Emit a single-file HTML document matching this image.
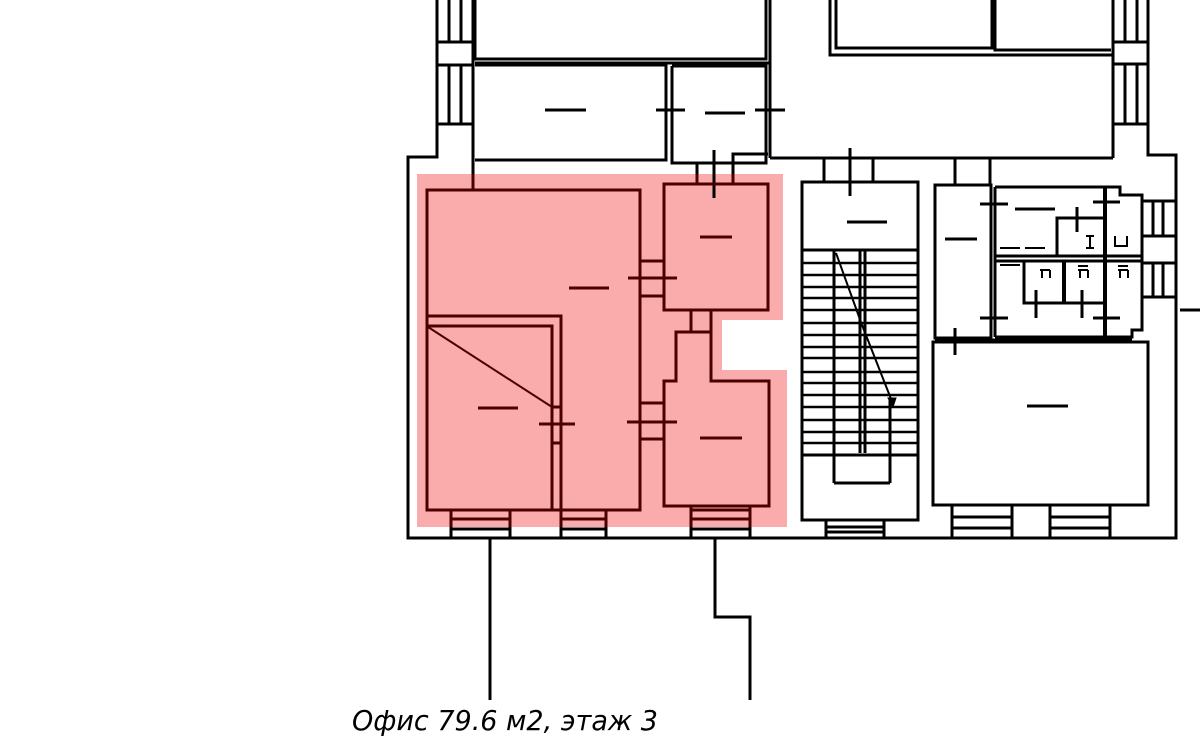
<!DOCTYPE html>
<html><head><meta charset="utf-8"><style>
html,body{margin:0;padding:0;background:#fff;width:1200px;height:745px;overflow:hidden}
svg{display:block}
</style></head><body>
<svg width="1200" height="745" viewBox="0 0 1200 745" xmlns="http://www.w3.org/2000/svg">
<!-- pink area -->
<polygon points="417,174 783,174 783,320 722,320 722,370 787,370 787,527 417,527" fill="#faabab"/>
<g fill="none" stroke="#000" stroke-width="3">
<!-- outer walls -->
<polyline points="437,0 437,157 408,157 408,538 1176,538 1176,155 1148,155 1148,0"/>
<line x1="473" y1="0" x2="473" y2="176"/>
<line x1="449" y1="0" x2="449" y2="42"/><line x1="461" y1="0" x2="461" y2="42"/>
<line x1="449" y1="66" x2="449" y2="124"/><line x1="461" y1="66" x2="461" y2="124"/>
<line x1="437" y1="42" x2="473" y2="42"/><line x1="437" y1="65" x2="473" y2="65"/><line x1="437" y1="124" x2="473" y2="124"/>
<!-- top rooms -->
<polyline points="475,0 475,59 766,59 766,0"/>
<line x1="475" y1="63" x2="770" y2="63"/>
<line x1="770" y1="0" x2="770" y2="158"/>
<polyline points="475,65 666,65 666,160 475,160"/>
<polyline points="672,66 766,66 766,163 672,163 672,66"/>
<line x1="656" y1="110" x2="685" y2="110"/>
<line x1="755" y1="110" x2="785" y2="110"/>
<line x1="545" y1="110" x2="586" y2="110"/>
<line x1="705" y1="113" x2="745" y2="113"/>
<polyline points="733,176 733,154 768,154"/>
<line x1="697" y1="163" x2="697" y2="176"/>
<!-- right top -->
<polyline points="830,0 830,55 1113,55"/>
<polyline points="836,0 836,48 992,48 992,0"/>
<polyline points="995,0 995,50 1111,50"/>
<line x1="1113" y1="0" x2="1113" y2="158"/>
<line x1="770" y1="158" x2="1113" y2="158"/>
<line x1="1125" y1="0" x2="1125" y2="42"/><line x1="1137" y1="0" x2="1137" y2="42"/>
<line x1="1125" y1="64" x2="1125" y2="124"/><line x1="1137" y1="64" x2="1137" y2="124"/>
<line x1="1113" y1="42" x2="1148" y2="42"/><line x1="1113" y1="64" x2="1148" y2="64"/><line x1="1113" y1="124" x2="1148" y2="124"/>
<!-- stair -->
<line x1="824" y1="158" x2="824" y2="182"/><line x1="873" y1="158" x2="873" y2="182"/>
<line x1="850" y1="148" x2="850" y2="196"/>
<rect x="802" y="182" width="116" height="338"/>
<line x1="847" y1="222" x2="887" y2="222"/>
<line x1="802" y1="250" x2="918" y2="250"/>
<g stroke-width="2.5">
<line x1="802" y1="263" x2="918" y2="263"/><line x1="802" y1="275" x2="918" y2="275"/>
<line x1="802" y1="287" x2="918" y2="287"/><line x1="802" y1="298" x2="918" y2="298"/>
<line x1="802" y1="310" x2="918" y2="310"/><line x1="802" y1="323" x2="918" y2="323"/>
<line x1="802" y1="335" x2="918" y2="335"/><line x1="802" y1="347" x2="918" y2="347"/>
<line x1="802" y1="358" x2="918" y2="358"/><line x1="802" y1="372" x2="918" y2="372"/>
<line x1="802" y1="383" x2="918" y2="383"/><line x1="802" y1="395" x2="918" y2="395"/>
<line x1="802" y1="407" x2="918" y2="407"/><line x1="802" y1="420" x2="918" y2="420"/>
<line x1="802" y1="432" x2="918" y2="432"/><line x1="802" y1="443" x2="918" y2="443"/>
</g>
<line x1="802" y1="455" x2="918" y2="455"/>
<line x1="834" y1="250" x2="834" y2="483"/>
<line x1="860" y1="250" x2="860" y2="453"/><line x1="865" y1="250" x2="865" y2="453"/>
<line x1="890" y1="400" x2="890" y2="483"/>
<line x1="834" y1="483" x2="890" y2="483"/>
<polyline points="836,253 862,325 893,404" stroke-width="2"/>
<polygon points="893,407 888,398 896,398" fill="#000" stroke-width="1"/>
<rect x="826" y="520" width="58" height="18"/>
<line x1="826" y1="527" x2="884" y2="527"/><line x1="826" y1="532" x2="884" y2="532"/>
<!-- right rooms -->
<line x1="955" y1="158" x2="955" y2="185"/><line x1="990" y1="158" x2="990" y2="185"/>
<rect x="935" y="185" width="56" height="153"/>
<line x1="945" y1="239" x2="977" y2="239"/>
<line x1="995" y1="187" x2="995" y2="337"/>
<polyline points="995,187 1120,187 1120,195 1142,195 1142,330 1132,330 1132,337 995,337"/>
<line x1="1105" y1="187" x2="1105" y2="337" stroke-width="4"/>
<line x1="995" y1="256" x2="1143" y2="256"/><line x1="995" y1="261" x2="1143" y2="261"/>
<polyline points="1057,255 1057,218 1105,218"/>
<polyline points="1024,261 1024,303 1105,303"/>
<line x1="1064" y1="261" x2="1064" y2="303" stroke-width="4"/>
<line x1="1015" y1="209" x2="1055" y2="209"/>
<line x1="980" y1="204" x2="1008" y2="204"/>
<line x1="980" y1="318" x2="1008" y2="318"/>
<line x1="1093" y1="202" x2="1120" y2="202"/>
<line x1="1093" y1="318" x2="1120" y2="318"/>
<line x1="1077" y1="207" x2="1077" y2="232"/>
<line x1="1036" y1="290" x2="1036" y2="318"/><line x1="1082" y1="290" x2="1082" y2="318"/>
<line x1="1142" y1="201" x2="1176" y2="201"/><line x1="1142" y1="236" x2="1176" y2="236"/>
<line x1="1142" y1="263" x2="1176" y2="263"/><line x1="1142" y1="297" x2="1176" y2="297"/>
<line x1="1153" y1="201" x2="1153" y2="236"/><line x1="1163" y1="201" x2="1163" y2="236"/>
<line x1="1153" y1="263" x2="1153" y2="297"/><line x1="1163" y1="263" x2="1163" y2="297"/>
<line x1="1180" y1="310" x2="1200" y2="310"/>
<g stroke-width="2">
<path d="M1040,270 h10 M1042,270 v8 M1050,270 v8"/>
<path d="M1078,270 h10 M1080,270 v8 M1088,270 v8 M1078,266 h10"/>
<path d="M1118,270 h10 M1120,270 v8 M1128,270 v8 M1118,266 h10"/>
<path d="M1090,236 v12 M1086,236 h8 M1086,248 h8"/>
<path d="M1115,236 v10 h12 v-10"/>
<path d="M1000,248 h20 M1000,265 h20 M1025,248 h20"/>
</g>
<!-- big right room -->
<line x1="935" y1="340" x2="1132" y2="340"/>
<rect x="933" y="342" width="215" height="163"/>
<line x1="955" y1="328" x2="955" y2="355"/>
<line x1="1027" y1="406" x2="1068" y2="406"/>
<rect x="952" y="505" width="60" height="33"/>
<rect x="1050" y="505" width="60" height="33"/>
<line x1="952" y1="517" x2="1012" y2="517"/><line x1="952" y1="528" x2="1012" y2="528"/>
<line x1="1050" y1="517" x2="1110" y2="517"/><line x1="1050" y1="528" x2="1110" y2="528"/>
<!-- leaders -->
<line x1="490" y1="538" x2="490" y2="700"/>
<polyline points="715,538 715,617 750,617 750,700"/>
<!-- windows bottom-left (black part) -->
<line x1="451" y1="527" x2="451" y2="538"/><line x1="510" y1="527" x2="510" y2="538"/>
<line x1="561" y1="527" x2="561" y2="538"/><line x1="606" y1="527" x2="606" y2="538"/>
<line x1="691" y1="527" x2="691" y2="538"/><line x1="750" y1="527" x2="750" y2="538"/>
<line x1="451" y1="529" x2="510" y2="529"/><line x1="561" y1="529" x2="606" y2="529"/><line x1="691" y1="529" x2="750" y2="529"/>
</g>
<!-- dark lines in pink -->
<g fill="none" stroke="#4a0000" stroke-width="3">
<line x1="473" y1="174" x2="473" y2="190"/>
<line x1="697" y1="174" x2="697" y2="184"/><line x1="733" y1="174" x2="733" y2="184"/>
<line x1="714" y1="150" x2="714" y2="198" stroke="#000"/>
<rect x="427" y="190" width="213" height="320"/>
<polyline points="427,316 561,316 561,510"/>
<polyline points="427,326 552,326 552,510"/>
<line x1="428" y1="327" x2="552" y2="407" stroke-width="2"/>
<line x1="552" y1="407" x2="561" y2="407"/><line x1="552" y1="443" x2="561" y2="443"/>
<line x1="539" y1="424" x2="575" y2="424"/>
<rect x="664" y="184" width="104" height="126"/>
<line x1="640" y1="261" x2="664" y2="261"/><line x1="640" y1="296" x2="664" y2="296"/>
<line x1="628" y1="278" x2="677" y2="278"/>
<polyline points="691,310 691,332 676,332 676,381 664,381 664,506 769,506 769,381 711,381 711,310"/>
<line x1="691" y1="332" x2="711" y2="332"/>
<line x1="640" y1="403" x2="664" y2="403"/><line x1="640" y1="439" x2="664" y2="439"/>
<line x1="627" y1="422" x2="677" y2="422"/>
<line x1="569" y1="288" x2="609" y2="288"/>
<line x1="478" y1="408" x2="518" y2="408"/>
<line x1="700" y1="237" x2="732" y2="237"/>
<line x1="700" y1="438" x2="742" y2="438"/>
<path d="M451,510 v17 M510,510 v17 M561,510 v17 M606,510 v17 M691,506 v21 M750,506 v21"/>
<path d="M451,519 h59 M561,519 h45 M691,519 h59 M691,510 h59"/>
</g>
<text x="352" y="730" font-family="'DejaVu Sans','Liberation Sans',sans-serif" font-style="italic" font-size="28" textLength="306" lengthAdjust="spacingAndGlyphs" fill="#000">Офис 79.6 м2, этаж 3</text>
</svg>
</body></html>
